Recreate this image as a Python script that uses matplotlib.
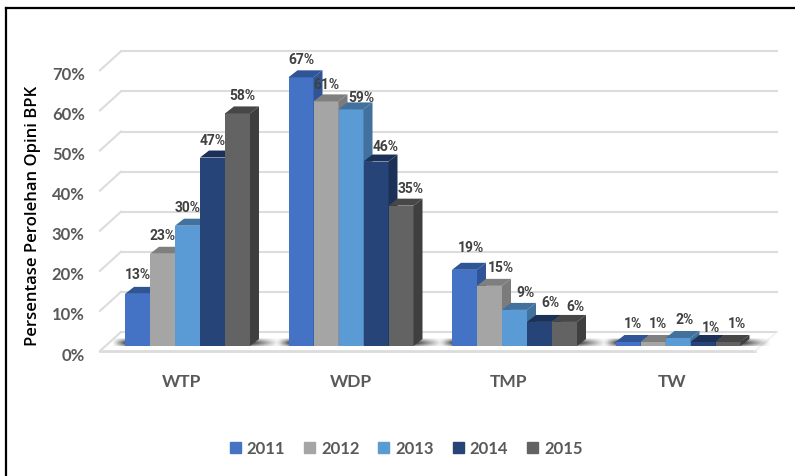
import numpy as np
import matplotlib
matplotlib.use("Agg")
import matplotlib.pyplot as plt
from matplotlib.patches import Polygon, Patch
from matplotlib.lines import Line2D
from matplotlib.transforms import ScaledTranslation

categories = ["WTP", "WDP", "TMP", "TW"]
years = ["2011", "2012", "2013", "2014", "2015"]
v2011 = [13, 67, 19, 1]
v2012 = [23, 61, 15, 1]
v2013 = [30, 59, 9, 2]
v2014 = [47, 46, 6, 1]
v2015 = [58, 35, 6, 1]
series = [v2011, v2012, v2013, v2014, v2015]
yticks = [0, 10, 20, 30, 40, 50, 60, 70]
ytick_labels = ["0%", "10%", "20%", "30%", "40%", "50%", "60%", "70%"]

front = ["#4472C4", "#A5A5A5", "#5B9BD5", "#264478", "#636363"]
top_c = ["#2F5597", "#7F7F7F", "#41719C", "#1B3157", "#474747"]
side_c = ["#2F5597", "#7B7B7B", "#41719C", "#1B3157", "#3F3F3F"]

W, H = 795, 477
plt.rcParams["font.family"] = ["Lato", "DejaVu Sans"]
fig = plt.figure(figsize=(W / 100, H / 100), dpi=100)

L, R, T, B = 100, 777, 30, 352
ax = fig.add_axes([L / W, 1 - B / H, (R - L) / W, (B - T) / H])
PX_Y = 4.01
PX_X = 163.5
c0 = 187.5
xlim = ((L - c0) / PX_X, (R - c0) / PX_X)
ylim = (0, (B - T) / PX_Y)
for s in ax.spines.values():
    s.set_visible(False)
ax.set_facecolor("none")

dx = lambda p: p / PX_X
dy = lambda p: p / PX_Y

x0 = np.arange(len(categories))
bw = dx(25)
lift = dy(5)

# wall grid and floor outline
gc = "#DCDCDC"
for t in yticks:
    ax.plot([xlim[0], xlim[0] + dx(21)], [t, t + dy(19)], color=gc, lw=1.5, zorder=1, clip_on=False)
    ax.plot([xlim[0] + dx(21), xlim[1]], [t + dy(19), t + dy(19)], color=gc, lw=1.5, zorder=1, clip_on=False)
ax.plot([xlim[0], xlim[1] - dx(22)], [0, 0], color=gc, lw=2, zorder=1, clip_on=False)
ax.plot([xlim[1] - dx(22), xlim[1]], [0, dy(19)], color="#EFEFEF", lw=1, zorder=1, clip_on=False)

# soft floor shadows around each group
for c in x0:
    xa, xb = c - 2.5 * bw - dx(13), c + 2.5 * bw + dx(30)
    g = np.linspace(0, 1, 200)
    h = np.linspace(0, 1, 24)
    ax_alpha = np.clip(np.minimum(g / 0.08, (1 - g) / 0.16), 0, 1) ** 1.1
    ay_alpha = np.clip(1 - np.abs(h - 0.4) / 0.6, 0, 1) ** 0.7
    rgba = np.zeros((24, 200, 4))
    rgba[..., :3] = 0.2
    rgba[..., 3] = np.outer(ay_alpha, ax_alpha) * 0.95
    ax.imshow(rgba, extent=[xa, xb, lift, lift + dy(8)], aspect="auto", origin="lower",
              zorder=1.7, interpolation="bilinear")
ax.set_xlim(xlim)
ax.set_ylim(ylim)

ddx, ddy = dx(9), dy(7)
for i, vals in enumerate(series):
    xs = x0 + (i - 2) * bw
    ax.bar(xs, vals, bw, bottom=lift, color=front[i], zorder=3 + i, linewidth=0, label=years[i])
    for x, v in zip(xs, vals):
        l, r, y1 = x - bw / 2, x + bw / 2, lift + v
        ax.add_patch(Polygon([(l, y1), (r, y1), (r + ddx, y1 + ddy), (l + ddx, y1 + ddy)],
                             closed=True, fc=top_c[i], lw=0, zorder=3 + i))
        ax.add_patch(Polygon([(r, lift), (r, y1), (r + ddx, y1 + ddy), (r + ddx, lift + ddy)],
                             closed=True, fc=side_c[i], lw=0, zorder=3 + i))

# label nudges in pixels, one row per series
nudge = [[(0, 20), (0, 18), (6, 23), (5, 19)],
         [(0, 19), (0, 17), (11, 19), (5, 19)],
         [(0, 19), (10, 12), (11, 18), (7, 19)],
         [(0, 18), (10, 16), (11, 20), (8, 15)],
         [(5, 18), (10, 18), (11, 16), (9, 19)]]
for i, vals in enumerate(series):
    for c, v, (nx, ny) in zip(x0, vals, nudge[i]):
        x = c + (i - 2) * bw
        ax.annotate(f"{v}%", (x, lift + v), xytext=(nx * 0.72, ny * 0.72), textcoords="offset points",
                    ha="center", va="center", fontsize=10, fontweight="bold", color="#404040",
                    family=["Roboto", "DejaVu Sans"], zorder=20, annotation_clip=False)

ax.set_yticks(yticks, ytick_labels)
ax.set_xticks(x0, categories)
ax.tick_params(axis="both", length=0)
ax.tick_params(axis="y", pad=11, labelsize=12, labelcolor="#595959")
ax.tick_params(axis="x", pad=16, labelsize=12.5, labelcolor="#595959")
for t in ax.get_yticklabels():
    t.set_fontweight("bold")
    t.set_transform(t.get_transform() + ScaledTranslation(0, -1.5 / 72, fig.dpi_scale_trans))
label_shift = [-6, 0, -6, -6]
for t, s in zip(ax.get_xticklabels(), label_shift):
    t.set_fontweight("bold")
    t.set_transform(t.get_transform() + ScaledTranslation(s * 0.72 / 72, 0, fig.dpi_scale_trans))

fig.text(33 / W, 1 - 216 / H, "Persentase Perolehan Opini BPK", rotation=90, ha="center", va="center",
         fontsize=12, family="Open Sans", fontweight="semibold", color="#000000")

ax.legend(handles=[Patch(color=c, label=y) for c, y in zip(front, years)],
          loc="center", bbox_to_anchor=(406 / W, 1 - 449 / H), bbox_transform=fig.transFigure,
          ncol=5, frameon=False, handlelength=0.66, handleheight=0.66,
          handletextpad=0.36, columnspacing=1.13, labelcolor="#595959",
          prop={"weight": "bold", "size": 12})

# picture frame: top and left only
fig.add_artist(Line2D([6 / W, 6 / W], [0, 1 - 9 / H], color="black", lw=1.6))
fig.add_artist(Line2D([6 / W, 1], [1 - 9 / H, 1 - 9 / H], color="black", lw=1.6))

fig.savefig("out.png", dpi=100)
